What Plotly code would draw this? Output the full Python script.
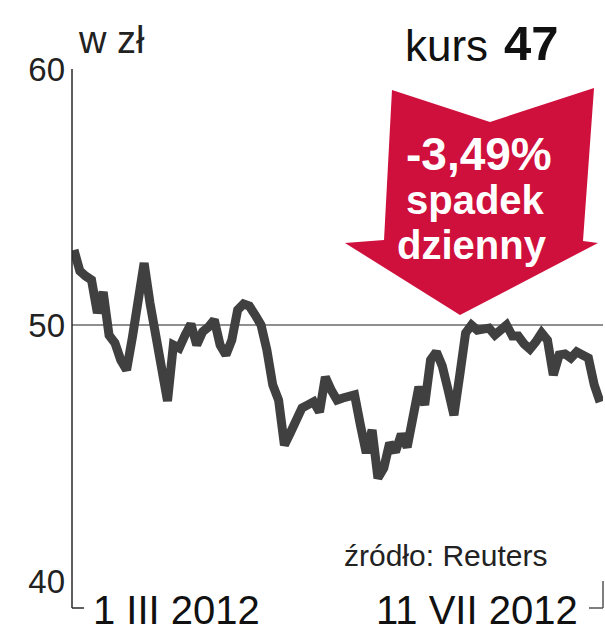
import plotly.graph_objects as go

# ---- data ----
prices = [
    52.93, 52.11, 51.91, 51.76, 50.47, 51.29, 49.60, 49.30, 48.63, 48.24,
    49.53, 51.17, 52.42, 50.86, 49.41, 48.05, 47.03, 49.22, 49.10, 49.60,
    50.04, 49.22, 49.73, 49.92, 50.20, 49.22, 48.83, 49.41, 50.59, 50.82,
    50.74, 50.39, 50.00, 49.02, 47.66, 47.07, 45.31, 45.78, 46.29, 46.76,
    46.88, 47.00, 46.60, 47.97, 47.46, 47.07, 47.15, 47.19, 47.27, 46.09,
    45.00, 45.90, 44.02, 44.41, 45.39, 45.04, 45.74, 45.23, 46.29, 47.58,
    46.88, 48.63, 48.95, 48.40, 47.46, 46.48, 48.05, 49.69, 50.00, 49.80,
    49.84, 49.88, 49.61, 49.80, 50.00, 49.57, 49.57, 49.26, 49.06, 49.34,
    49.69, 49.41, 48.05, 48.83, 48.87, 48.71, 48.95, 48.83, 48.71, 47.66,
    46.99,
]
days = list(range(len(prices)))

y_ticks = [40, 50, 60]
y_tick_labels = ["40", "50", "60"]
unit_label = "w zł"
kurs_label = "kurs"
kurs_value = "47"
change_label = "-3,49%"
change_desc = ["spadek", "dzienny"]
date_labels = ["1 III 2012", "11 VII 2012"]
source_label = "źródło: Reuters"

# ---- geometry helpers (pixel -> paper) ----
W, H = 605, 640
L, R, T, B = 72, 2, 69, 59
PW, PH = W - L - R, H - T - B


def px(x):
    return (x - L) / PW


def py(y):
    return (H - B - y) / PH


FONT = "Liberation Sans, Arial, sans-serif"
RED = "#cf0f3c"

fig = go.Figure()
fig.add_trace(go.Scatter(
    x=days, y=prices, mode="lines",
    line=dict(color="#404040", width=9),
    hoverinfo="skip",
))

shapes = []
# arrow polygon
arrow_px = [(392, 90), (490, 122), (594, 88), (583, 241), (598, 243),
            (460, 315), (345, 243), (384, 240)]
path = "M " + " L ".join(f"{px(x):.4f},{py(y):.4f}" for x, y in arrow_px) + " Z"
shapes.append(dict(type="path", xref="paper", yref="paper", path=path,
                   fillcolor=RED, line=dict(width=0), layer="above"))
# left axis line with bracket
shapes.append(dict(type="line", xref="paper", yref="paper",
                   x0=px(72), x1=px(72), y0=py(69), y1=py(608),
                   line=dict(color="#2a2a2a", width=1.5)))
shapes.append(dict(type="line", xref="paper", yref="paper",
                   x0=px(72), x1=px(84), y0=py(608), y1=py(608),
                   line=dict(color="#2a2a2a", width=1.5)))
# right bracket
shapes.append(dict(type="line", xref="paper", yref="paper",
                   x0=px(603), x1=px(603), y0=py(581), y1=py(608),
                   line=dict(color="#555555", width=1.5)))
shapes.append(dict(type="line", xref="paper", yref="paper",
                   x0=px(589), x1=px(603), y0=py(608), y1=py(608),
                   line=dict(color="#555555", width=1.5)))

ann = []
ann.append(dict(text=unit_label, x=px(76), y=py(40), xanchor="left", yanchor="middle",
                font=dict(family=FONT, size=38, color="#222")))
ann.append(dict(text=kurs_label, x=px(490), y=py(45), xanchor="right", yanchor="middle",
                font=dict(family=FONT, size=44, color="#111")))
ann.append(dict(text="<b>" + kurs_value + "</b>", x=px(502), y=py(43), xanchor="left",
                yanchor="middle", font=dict(family=FONT, size=49, color="#111")))
ann.append(dict(text="<b>" + change_label + "</b>", x=px(479), y=py(154), xanchor="center",
                yanchor="middle", font=dict(family=FONT, size=46, color="white")))
ann.append(dict(text="<b>" + change_desc[0] + "</b>", x=px(475), y=py(200), xanchor="center",
                yanchor="middle", font=dict(family=FONT, size=40, color="white")))
ann.append(dict(text="<b>" + change_desc[1] + "</b>", x=px(472), y=py(245), xanchor="center",
                yanchor="middle", font=dict(family=FONT, size=40, color="white")))
ann.append(dict(text=source_label, x=px(549), y=py(555), xanchor="right", yanchor="middle",
                font=dict(family=FONT, size=30, color="#222")))
ann.append(dict(text=date_labels[0], x=px(91), y=py(610), xanchor="left", yanchor="middle",
                font=dict(family=FONT, size=40, color="#111")))
ann.append(dict(text=date_labels[1], x=px(580), y=py(610), xanchor="right", yanchor="middle",
                font=dict(family=FONT, size=40, color="#111")))
for a in ann:
    a.update(xref="paper", yref="paper", showarrow=False)

fig.update_layout(
    width=W, height=H,
    margin=dict(l=L, r=R, t=T, b=B, pad=0, autoexpand=False),
    paper_bgcolor="white", plot_bgcolor="white",
    showlegend=False,
    xaxis=dict(range=[-0.34, 90.5], showticklabels=False, showgrid=False,
               zeroline=False, showline=False, ticks="", automargin=False),
    yaxis=dict(range=[40, 60], tickvals=y_ticks, ticktext=y_tick_labels,
               showgrid=True, gridcolor="#8f8f8f", gridwidth=1.5,
               zeroline=False, showline=False, ticks="", automargin=False,
               ticklabelstandoff=6,
               tickfont=dict(family=FONT, size=33, color="#222")),
    shapes=shapes,
    annotations=ann,
)

fig.write_html(
    "out.html",
    config={"displayModeBar": False},
    post_script="document.body.style.margin='0';document.body.style.overflow='hidden';",
)
